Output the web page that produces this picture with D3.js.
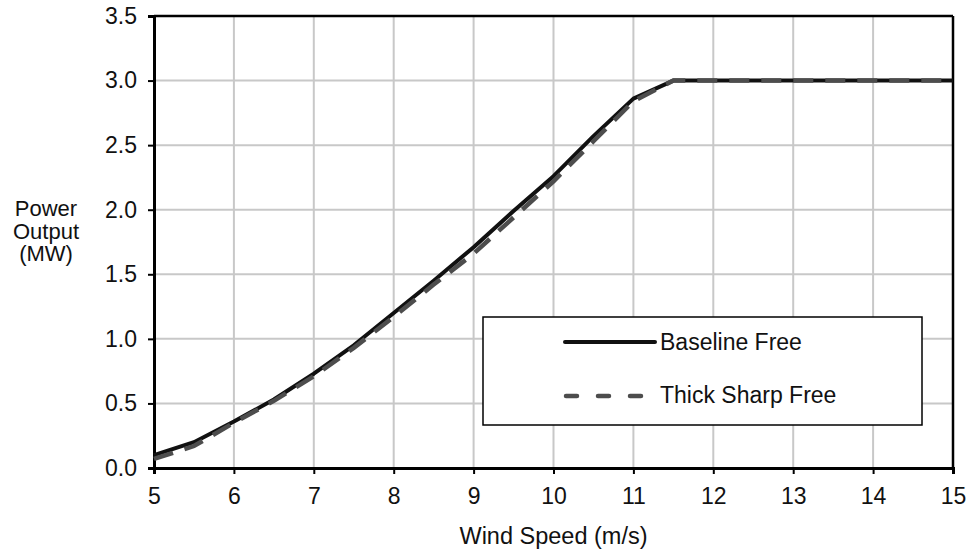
<!DOCTYPE html>
<html>
<head>
<meta charset="utf-8">
<title>Power Curve</title>
<script src="https://d3js.org/d3.v7.min.js"></script>
<style>
  body { margin: 0; background: #fff; }
  text { font-family: "Liberation Sans", Arial, sans-serif; fill: #111; }
</style>
</head>
<body>
<svg id="chart"></svg>
<script>
// wind speeds (m/s)
let windSpeed = [5, 5.5, 6, 6.5, 7, 7.5, 8, 8.5, 9, 9.5, 10, 10.5, 11, 11.5, 12, 12.5, 13, 13.5, 14, 14.5, 15];
// power output (MW)
let baselineFree = [0.10, 0.20, 0.36, 0.53, 0.73, 0.95, 1.20, 1.45, 1.71, 1.99, 2.26, 2.57, 2.86, 3.0, 3.0, 3.0, 3.0, 3.0, 3.0, 3.0, 3.0];
let thickSharpFree = [0.07, 0.17, 0.35, 0.52, 0.71, 0.93, 1.17, 1.42, 1.66, 1.94, 2.22, 2.53, 2.84, 3.0, 3.0, 3.0, 3.0, 3.0, 3.0, 3.0, 3.0];

let xTicks = [5, 6, 7, 8, 9, 10, 11, 12, 13, 14, 15];
let yTicks = [0, 0.5, 1.0, 1.5, 2.0, 2.5, 3.0, 3.5];

let seriesNames = ['Baseline Free', 'Thick Sharp Free'];

let width = 970, height = 555;
let margin = { top: 16, right: 17, bottom: 87, left: 154 };
let plotWidth = width - margin.left - margin.right;
let plotHeight = height - margin.top - margin.bottom;
let fontSize = '23px';

let svg = d3.select('#chart').attr('width', width).attr('height', height);
let plot = svg.append('g').attr('transform', translate(margin.left, margin.top));

let x = d3.scaleLinear().domain([5, 15]).range([0, plotWidth]);
let y = d3.scaleLinear().domain([0, 3.5]).range([plotHeight, 0]);

// gridlines
plot.append('g')
  .selectAll('line.vgrid')
  .data(xTicks.slice(1, -1))
  .join('line')
  .attr('x1', d => x(d)).attr('x2', d => x(d))
  .attr('y1', 0).attr('y2', plotHeight)
  .attr('stroke', '#c8c8c8').attr('stroke-width', 2);

plot.append('g')
  .selectAll('line.hgrid')
  .data(yTicks.slice(1, -1))
  .join('line')
  .attr('x1', 0).attr('x2', plotWidth)
  .attr('y1', d => y(d)).attr('y2', d => y(d))
  .attr('stroke', '#c8c8c8').attr('stroke-width', 2);

// right and top border
plot.append('line').attr('x1', 0).attr('x2', plotWidth).attr('y1', 0).attr('y2', 0)
  .attr('stroke', '#000').attr('stroke-width', 2.5);
plot.append('line').attr('x1', plotWidth).attr('x2', plotWidth).attr('y1', 0).attr('y2', plotHeight)
  .attr('stroke', '#000').attr('stroke-width', 2.5);

// axes
let xAxis = plot.append('g')
  .attr('transform', translate(0, plotHeight))
  .call(d3.axisBottom(x).tickValues(xTicks).tickFormat(d3.format('d')).tickSize(6).tickPadding(14));
let yAxis = plot.append('g')
  .call(d3.axisLeft(y).tickValues(yTicks).tickFormat(d3.format('.1f')).tickSize(6).tickPadding(11));

[xAxis, yAxis].forEach(a => {
  a.select('.domain').attr('stroke', '#000').attr('stroke-width', 3);
  a.selectAll('.tick line').attr('stroke', '#000').attr('stroke-width', 2);
  a.selectAll('.tick text').style('font-size', fontSize).attr('fill', '#111')
    .style('font-family', '"Liberation Sans", Arial, sans-serif');
});

// lines
let line = d3.line()
  .x((d, i) => x(windSpeed[i]))
  .y(d => y(d));

plot.append('path')
  .datum(baselineFree)
  .attr('fill', 'none')
  .attr('stroke', '#111')
  .attr('stroke-width', 4)
  .attr('stroke-linejoin', 'round')
  .attr('d', line);

plot.append('path')
  .datum(thickSharpFree)
  .attr('fill', 'none')
  .attr('stroke', '#4d4d4d')
  .attr('stroke-width', 4.5)
  .attr('stroke-dasharray', '20,12')
  .attr('d', line);

// legend
let legend = svg.append('g').attr('transform', translate(483, 317));
legend.append('rect')
  .attr('width', 439).attr('height', 108)
  .attr('fill', '#fff').attr('stroke', '#000').attr('stroke-width', 1.5);

legend.append('line')
  .attr('x1', 82).attr('x2', 172).attr('y1', 25).attr('y2', 25)
  .attr('stroke', '#111').attr('stroke-width', 4).attr('stroke-linecap', 'round');
legend.append('line')
  .attr('x1', 83).attr('x2', 172).attr('y1', 79).attr('y2', 79)
  .attr('stroke', '#4d4d4d').attr('stroke-width', 4.5)
  .attr('stroke-linecap', 'round').attr('stroke-dasharray', '11,21');

legend.selectAll('text.leg')
  .data(seriesNames)
  .join('text')
  .attr('x', 177)
  .attr('y', (d, i) => 33 + i * 53)
  .style('font-size', fontSize)
  .text(d => d);

// axis titles
let yTitle = svg.append('text')
  .attr('x', 46).attr('y', 216)
  .attr('text-anchor', 'middle')
  .style('font-size', '22px');
['Power', 'Output', '(MW)'].forEach((t, i) => {
  yTitle.append('tspan').attr('x', 46).attr('dy', i === 0 ? 0 : 22.5).text(t);
});

svg.append('text')
  .attr('x', margin.left + plotWidth / 2)
  .attr('y', 544)
  .attr('text-anchor', 'middle')
  .style('font-size', '23.5px')
  .text('Wind Speed (m/s)');

function translate(x, y) {
  return 'translate(' + x + ',' + y + ')';
}
</script>
</body>
</html>
